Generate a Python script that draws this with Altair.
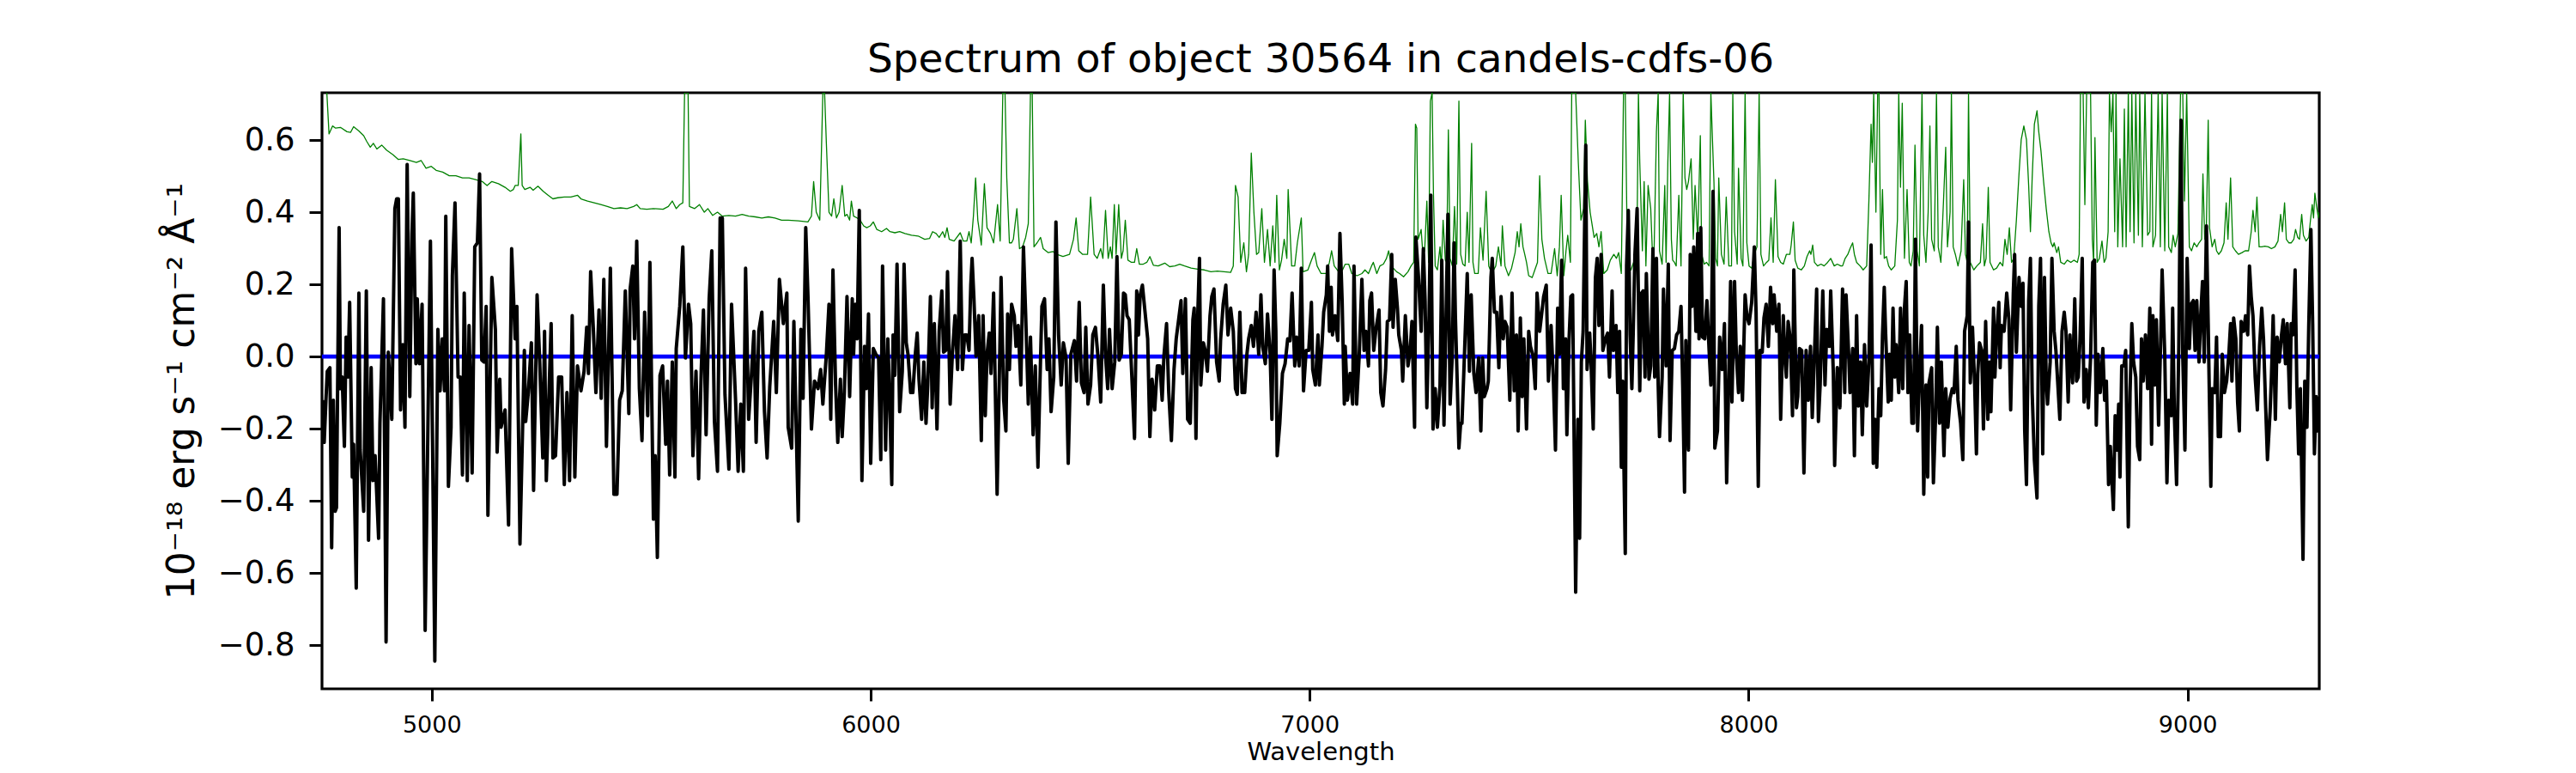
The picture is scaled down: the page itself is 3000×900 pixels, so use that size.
import altair as alt
import pandas as pd

# ---- data: (wavelength [Angstrom], flux [1e-18 erg/s/cm2/A]) ----
flux_4750_5900 = [
    (4751,-0.121),(4755,-0.238),(4759,-0.121),(4762,-0.041),(4768,-0.031),(4772,-0.530),(4776,-0.121),(4780,-0.429),
    (4783,-0.419),(4789,0.357),(4792,-0.089),(4796,-0.057),(4801,-0.249),(4805,0.054),(4809,-0.057),(4813,0.150),
    (4819,-0.334),(4822,-0.243),(4828,-0.642),(4834,0.176),(4837,-0.259),(4845,-0.429),(4851,0.182),(4856,-0.509),
    (4862,-0.031),(4866,-0.344),(4871,-0.275),(4879,-0.504),(4882,-0.185),(4890,0.160),(4896,-0.791),(4901,0.012),
    (4909,-0.174),(4916,0.410),(4920,0.437),(4924,0.437),(4929,-0.148),(4934,0.033),(4939,-0.196),(4944,0.532),
    (4950,-0.111),(4955,0.341),(4958,0.453),(4964,-0.020),(4967,0.160),(4972,-0.020),(4978,0.145),(4985,-0.759),
    (4997,0.320),(5007,-0.844),(5014,0.075),(5019,-0.095),(5024,0.049),(5029,-0.095),(5032,0.389),(5038,-0.360),
    (5044,-0.196),(5047,0.224),(5053,0.426),(5060,-0.057),(5065,-0.057),(5070,-0.328),(5074,0.176),(5081,-0.344),
    (5085,0.086),(5092,-0.323),(5098,0.304),(5104,0.315),(5109,0.506),(5114,-0.010),(5119,-0.015),(5124,0.139),
    (5128,-0.440),(5137,0.219),(5145,0.075),(5149,-0.265),(5155,-0.063),(5158,-0.196),(5167,-0.148),(5175,-0.467),
    (5182,0.299),(5190,0.049),(5194,0.139),(5201,-0.520),(5211,0.017),(5214,-0.180),(5220,-0.100),(5227,0.038),
    (5232,-0.371),(5240,0.171),(5246,-0.015),(5253,-0.281),(5257,0.070),(5261,-0.344),(5272,0.091),(5276,-0.281),
    (5282,-0.275),(5289,-0.057),(5296,-0.057),(5302,-0.355),(5308,-0.100),(5314,-0.344),(5320,0.113),(5326,-0.334),
    (5332,-0.026),(5340,-0.095),(5347,-0.041),(5353,0.081),(5357,-0.047),(5362,0.235),(5368,0.081),(5374,-0.100),
    (5381,0.129),(5386,-0.116),(5392,0.214),(5398,-0.249),(5407,0.245),(5415,-0.382),(5422,-0.382),(5428,-0.121),
    (5434,-0.095),(5441,0.182),(5449,-0.158),(5452,0.187),(5458,0.251),(5462,0.049),(5467,0.320),(5473,-0.089),
    (5479,-0.233),(5485,0.123),(5492,-0.164),(5497,0.261),(5505,-0.451),(5509,-0.275),(5514,-0.557),(5520,-0.052),
    (5526,-0.026),(5533,-0.243),(5537,-0.068),(5542,-0.328),(5548,-0.015),(5554,-0.334),(5557,0.022),(5565,0.139),
    (5572,0.304),(5578,-0.004),(5585,0.145),(5590,0.091),(5595,-0.275),(5602,-0.041),(5608,-0.339),(5614,-0.036),
    (5619,0.129),(5625,-0.217),(5632,0.160),(5638,0.293),(5644,-0.180),(5651,-0.318),(5657,0.384),(5662,0.384),
    (5668,-0.105),(5677,-0.312),(5683,0.145),(5692,-0.116),(5698,-0.318),(5704,-0.132),(5710,-0.318),(5715,0.245),
    (5722,-0.174),(5728,-0.057),(5734,0.070),(5739,-0.238),(5745,0.070),(5752,0.123),(5758,-0.153),(5764,-0.281),
    (5770,-0.084),(5779,0.097),(5785,-0.100),(5792,0.214),(5801,0.091),(5809,0.176),(5812,-0.196),(5820,-0.254),
    (5825,0.097),(5835,-0.456),(5841,0.075),(5846,-0.116),(5852,0.357),(5857,0.171),(5865,-0.201),(5872,-0.068),
    (5880,-0.089),(5886,-0.036),(5891,-0.132),(5899,0.006),
]
flux_5900_7080 = [
    (5905,0.145),(5909,-0.174),(5914,0.240),(5920,-0.079),(5925,-0.238),(5931,-0.063),(5935,-0.222),(5940,-0.100),
    (5946,0.166),(5952,-0.111),(5958,0.160),(5961,0.006),(5965,0.145),(5969,0.049),(5974,0.405),(5980,-0.344),
    (5986,0.028),(5990,-0.089),(5995,0.118),(6000,-0.296),(6006,0.022),(6012,0.006),(6018,-0.004),(6023,-0.286),
    (6027,0.251),(6034,-0.259),(6039,0.049),(6042,-0.068),(6048,-0.355),(6051,0.060),(6055,-0.052),(6060,0.256),
    (6066,-0.153),(6072,-0.041),(6076,0.256),(6081,0.038),(6085,0.006),(6091,-0.100),(6096,-0.100),(6102,0.012),
    (6106,0.065),(6110,-0.063),(6116,-0.174),(6121,-0.015),(6126,-0.185),(6130,-0.079),(6136,0.166),(6140,-0.142),
    (6145,0.091),(6151,-0.201),(6156,0.070),(6162,0.182),(6166,0.012),(6171,0.017),(6175,0.235),(6181,-0.132),
    (6186,0.006),(6192,0.113),(6198,-0.036),(6204,0.320),(6209,-0.036),(6214,0.060),(6219,0.060),(6224,0.017),
    (6228,0.198),(6231,0.272),(6235,0.166),(6240,0.001),(6246,0.113),(6252,-0.233),(6256,0.113),(6261,-0.164),
    (6265,0.006),(6270,0.065),(6274,-0.047),(6280,0.176),(6288,-0.382),(6294,0.006),(6297,0.219),(6303,-0.121),
    (6308,-0.206),(6312,0.118),(6316,-0.036),(6321,0.145),(6327,0.113),(6331,0.028),(6336,0.086),(6342,-0.079),
    (6348,0.304),(6353,0.118),(6359,-0.132),(6364,0.054),(6370,-0.217),(6375,-0.026),(6381,-0.307),(6385,-0.100),
    (6390,0.139),(6396,0.160),(6402,-0.036),(6406,0.049),(6411,-0.153),(6417,-0.057),(6422,0.373),(6428,0.060),
    (6434,-0.079),(6439,0.038),(6445,-0.004),(6450,-0.296),(6456,0.006),(6464,0.044),(6469,-0.068),(6475,0.150),
    (6480,-0.073),(6486,-0.100),(6490,0.081),(6495,-0.132),(6501,-0.079),(6506,0.060),(6512,0.081),(6518,-0.004),
    (6524,-0.126),(6530,0.198),(6535,0.001),(6540,-0.089),(6544,0.075),(6550,-0.089),(6556,-0.015),(6561,0.277),
    (6566,-0.010),(6571,0.006),(6576,0.176),(6580,0.171),(6584,0.113),(6589,0.102),(6595,-0.057),(6601,-0.227),
    (6606,0.182),(6610,0.060),(6614,0.171),(6619,0.198),(6625,0.123),(6631,0.049),(6636,-0.222),(6641,-0.063),
    (6647,-0.148),(6653,-0.026),(6659,-0.026),(6664,-0.121),(6668,0.001),(6674,0.091),(6679,-0.100),(6685,-0.233),
    (6691,-0.036),(6696,0.049),(6702,0.107),(6707,0.155),(6711,-0.047),(6717,0.160),(6722,-0.174),(6728,-0.185),
    (6734,0.102),(6737,0.134),(6741,-0.227),(6745,0.113),(6749,0.272),(6752,-0.079),(6758,0.038),(6762,0.017),
    (6767,-0.041),(6773,0.113),(6777,0.166),(6782,0.187),(6788,-0.015),(6794,-0.068),(6797,0.044),(6803,0.145),
    (6809,0.198),(6814,0.060),(6820,0.134),(6826,0.070),(6831,-0.089),(6835,-0.105),(6841,0.123),(6846,-0.100),
    (6852,-0.100),(6857,0.006),(6861,0.049),(6867,0.086),(6872,0.028),(6878,0.123),(6884,0.006),(6889,0.171),
    (6893,0.028),(6899,-0.020),(6904,0.118),(6910,0.006),(6914,-0.174),(6919,0.240),(6923,0.070),(6926,-0.275),
    (6932,-0.185),(6938,-0.047),(6944,-0.020),(6950,0.049),(6955,0.044),(6960,0.176),(6966,-0.026),(6970,0.054),
    (6976,-0.026),(6981,0.245),(6986,-0.095),(6992,0.017),(6998,0.017),(7004,0.150),(7007,-0.036),(7013,-0.079),
    (7019,0.060),(7022,-0.079),(7028,0.028),(7032,0.123),(7038,0.171),(7041,0.251),(7045,0.070),(7049,0.192),
    (7052,0.060),(7058,0.113),(7064,0.044),(7069,0.341),(7074,0.155),(7079,-0.132),
]
flux_7080_8210 = [
    (7081,0.028),(7086,-0.121),(7092,-0.047),(7098,-0.132),(7101,0.251),(7107,-0.132),(7113,0.006),(7119,0.214),
    (7124,0.017),(7128,0.070),(7134,-0.026),(7137,0.155),(7141,0.176),(7146,0.017),(7151,0.075),(7158,0.129),
    (7162,-0.100),(7167,-0.137),(7173,-0.036),(7177,0.097),(7182,0.102),(7187,0.283),(7190,0.081),(7195,0.214),
    (7200,0.134),(7203,0.060),(7209,0.017),(7212,-0.068),(7218,0.113),(7224,-0.026),(7229,0.017),(7233,0.097),
    (7239,-0.196),(7242,0.331),(7248,0.219),(7254,0.070),(7259,0.299),(7263,0.155),(7267,-0.142),(7272,0.113),
    (7276,0.447),(7281,-0.201),(7286,-0.089),(7291,-0.196),(7297,-0.079),(7301,0.267),(7306,-0.190),(7310,0.060),
    (7315,0.394),(7320,-0.132),(7325,0.006),(7329,0.315),(7332,0.113),(7336,-0.063),(7340,-0.254),(7344,-0.185),
    (7347,-0.185),(7353,0.017),(7359,0.230),(7364,-0.041),(7368,0.171),(7374,-0.047),(7379,-0.100),(7385,-0.004),
    (7390,-0.206),(7394,-0.004),(7398,-0.111),(7404,-0.089),(7407,-0.068),(7413,0.219),(7416,0.272),(7421,0.123),
    (7426,0.123),(7431,-0.031),(7436,0.166),(7441,0.049),(7445,0.097),(7450,0.081),(7456,-0.121),(7461,0.176),
    (7466,-0.095),(7471,0.060),(7475,-0.206),(7480,0.107),(7484,-0.111),(7488,0.049),(7494,-0.201),(7499,0.070),
    (7503,0.028),(7509,0.001),(7514,-0.089),(7518,0.176),(7524,0.070),(7529,0.123),(7533,0.166),(7539,0.198),
    (7544,-0.068),(7550,0.086),(7555,-0.057),(7560,-0.259),(7565,0.134),(7569,0.006),(7574,0.267),(7578,-0.089),
    (7583,0.049),(7586,-0.217),(7591,0.049),(7595,0.166),(7599,0.171),(7602,-0.174),(7606,-0.653),(7611,-0.174),
    (7615,-0.504),(7619,-0.015),(7623,0.070),(7629,0.586),(7632,-0.036),(7638,0.065),(7641,-0.015),(7646,-0.201),
    (7651,0.219),(7655,0.272),(7659,0.086),(7664,0.283),(7668,0.017),(7674,0.049),(7679,0.065),(7683,-0.057),
    (7689,0.182),(7692,0.017),(7698,0.086),(7702,-0.100),(7706,0.070),(7710,-0.307),(7713,-0.068),(7719,-0.546),
    (7722,0.251),(7726,0.405),(7730,0.060),(7734,-0.089),(7737,0.060),(7741,0.283),(7746,0.410),(7752,-0.095),
    (7756,0.176),(7760,0.182),(7764,-0.057),(7767,0.230),(7773,-0.063),(7777,-0.026),(7782,0.299),(7786,-0.057),
    (7790,0.272),(7794,-0.079),(7797,-0.222),(7803,-0.057),(7806,0.187),(7812,-0.026),(7817,0.256),(7821,-0.233),
    (7826,0.017),(7831,0.022),(7836,0.060),(7841,0.070),(7846,0.139),(7850,-0.089),(7854,-0.376),(7857,0.044),
    (7863,-0.259),(7867,0.283),(7871,0.139),(7875,0.304),(7880,0.070),(7884,0.341),(7887,0.049),(7891,0.357),
    (7895,0.054),(7900,0.049),(7905,0.155),(7910,0.017),(7914,-0.079),(7919,0.458),(7923,-0.254),(7929,-0.206),
    (7934,0.054),(7940,-0.036),(7945,0.091),(7950,-0.350),(7955,-0.041),(7959,0.208),(7962,-0.126),(7968,0.208),
    (7972,0.006),(7977,-0.100),(7981,0.028),(7986,-0.121),(7992,0.171),(7996,0.113),(8001,0.091),(8007,0.150),
    (8013,0.304),(8017,0.123),(8022,-0.360),(8026,0.017),(8031,0.012),(8035,0.107),(8040,0.145),(8045,0.028),
    (8050,0.192),(8055,0.091),(8058,0.171),(8064,0.070),(8069,0.145),(8073,-0.174),(8079,0.113),(8082,0.017),
    (8086,-0.057),(8090,0.097),(8095,0.049),(8100,-0.164),(8103,0.240),(8109,-0.142),(8112,-0.111),(8116,0.022),
    (8121,0.017),(8126,-0.323),(8131,0.017),(8136,-0.121),(8141,0.028),(8145,-0.169),(8150,0.006),(8155,0.187),
    (8159,-0.180),(8163,-0.079),(8169,0.182),(8174,-0.079),(8178,0.075),(8184,0.028),(8187,0.182),(8193,-0.047),
    (8196,-0.302),(8202,-0.031),(8208,-0.142),
]
flux_8210_9300 = [
    (8214,0.187),(8219,-0.100),(8222,0.171),(8228,0.006),(8231,-0.100),(8237,0.022),(8241,-0.275),(8246,0.113),
    (8250,-0.137),(8255,-0.015),(8259,-0.217),(8264,0.033),(8269,-0.137),(8274,-0.015),(8279,0.309),(8284,-0.296),
    (8288,-0.174),(8292,-0.307),(8297,-0.089),(8301,-0.164),(8305,0.060),(8309,0.192),(8312,0.070),(8318,-0.126),
    (8321,0.006),(8325,-0.121),(8329,0.134),(8333,-0.057),(8336,0.033),(8342,-0.100),(8346,0.134),(8351,-0.089),
    (8355,0.134),(8359,0.208),(8363,-0.100),(8367,0.060),(8372,-0.185),(8376,-0.185),(8380,0.325),(8385,-0.206),
    (8389,-0.068),(8394,0.086),(8399,-0.382),(8404,-0.079),(8408,-0.334),(8411,-0.073),(8417,-0.031),(8421,-0.350),
    (8426,-0.164),(8430,0.081),(8435,-0.185),(8439,-0.015),(8445,-0.275),(8449,-0.089),(8454,-0.196),(8459,-0.116),
    (8464,-0.089),(8468,-0.100),(8473,0.028),(8477,-0.121),(8483,-0.185),(8488,-0.286),(8492,0.070),(8498,0.113),
    (8501,0.373),(8505,-0.073),(8510,0.081),(8515,-0.079),(8519,-0.270),(8522,-0.047),(8526,0.038),(8531,0.017),
    (8535,-0.201),(8540,0.097),(8545,-0.174),(8549,-0.015),(8552,-0.153),(8558,0.134),(8561,-0.057),(8565,0.060),
    (8570,0.150),(8573,-0.031),(8576,0.086),(8582,0.070),(8588,0.176),(8593,0.102),(8597,-0.148),(8603,0.176),
    (8606,0.283),(8610,0.012),(8616,0.219),(8621,0.139),(8625,0.203),(8629,-0.206),(8633,-0.355),(8638,0.155),
    (8642,0.272),(8646,-0.100),(8651,-0.286),(8657,-0.392),(8661,0.139),(8665,0.272),(8670,-0.270),(8674,0.219),
    (8678,-0.068),(8681,-0.132),(8687,-0.015),(8691,0.272),(8696,0.070),(8700,0.017),(8704,-0.068),(8709,-0.174),
    (8714,0.070),(8719,0.123),(8723,0.070),(8728,-0.126),(8732,0.060),(8738,-0.073),(8743,0.160),(8747,-0.068),
    (8751,-0.057),(8755,0.049),(8760,0.272),(8764,-0.126),(8769,-0.036),(8774,-0.142),(8779,-0.004),(8784,0.261),
    (8788,0.267),(8792,-0.190),(8796,0.006),(8801,-0.100),(8807,0.022),(8811,-0.121),(8815,-0.068),(8820,-0.355),
    (8824,-0.249),(8828,-0.350),(8831,-0.424),(8835,-0.164),(8839,-0.259),(8843,-0.132),(8846,-0.334),(8850,-0.026),
    (8855,-0.026),(8859,0.017),(8865,-0.472),(8869,-0.100),(8873,0.091),(8877,-0.015),(8882,-0.057),(8886,-0.249),
    (8891,-0.286),(8895,0.049),(8899,-0.068),(8904,0.060),(8909,-0.089),(8914,0.134),(8918,-0.243),(8921,0.113),
    (8925,-0.079),(8929,0.102),(8934,-0.190),(8939,0.060),(8942,0.240),(8948,0.006),(8953,-0.350),(8957,-0.121),
    (8963,-0.164),(8966,0.134),(8970,-0.164),(8975,-0.355),(8980,0.028),(8985,0.655),(8989,0.006),(8994,-0.259),
    (8999,0.272),(9004,0.022),(9008,0.145),(9013,0.155),(9017,0.017),(9021,0.155),(9026,-0.015),(9030,0.113),
    (9034,0.208),(9038,-0.015),(9043,0.362),(9047,0.091),(9053,-0.360),(9056,-0.089),(9062,-0.100),(9066,0.054),
    (9070,-0.222),(9075,-0.222),(9079,0.006),(9084,-0.100),(9089,-0.068),(9094,0.006),(9098,0.091),(9101,-0.068),
    (9105,0.107),(9110,0.049),(9114,-0.126),(9118,-0.206),(9122,0.097),(9128,0.070),(9132,0.113),(9137,0.060),
    (9141,0.251),(9145,0.166),(9149,0.113),(9154,-0.057),(9159,-0.148),(9164,0.028),(9169,0.134),(9173,0.049),
    (9178,-0.142),(9182,-0.286),(9188,-0.153),(9191,-0.057),(9195,0.113),(9200,-0.174),(9204,0.054),(9209,-0.015),
    (9214,0.060),(9218,0.102),(9223,-0.020),(9227,0.091),(9233,-0.142),(9236,0.091),(9240,0.060),(9245,0.240),
    (9249,-0.089),(9253,-0.270),(9257,-0.089),(9263,-0.562),(9267,-0.068),(9272,-0.196),(9276,0.081),(9281,0.352),
    (9285,0.091),(9289,-0.270),(9293,-0.111),(9296,-0.206),(9300,-0.111),
]

# green (sky / error) spectrum; spikes that leave the top of the frame are given 0.9
sky_4750_5900 = [
    (4761,0.9),(4766,0.617),(4774,0.639),(4781,0.633),(4792,0.635),(4807,0.623),(4815,0.621),(4822,0.637),
    (4834,0.625),(4845,0.612),(4852,0.596),(4860,0.580),(4867,0.591),(4875,0.575),(4886,0.586),(4897,0.572),
    (4912,0.559),(4924,0.546),(4935,0.548),(4950,0.543),(4965,0.538),(4976,0.543),(4987,0.522),(4999,0.527),
    (5010,0.516),(5025,0.511),(5040,0.501),(5055,0.501),(5070,0.495),(5085,0.495),(5100,0.490),(5115,0.485),
    (5126,0.474),(5137,0.485),(5152,0.479),(5167,0.469),(5179,0.458),(5186,0.463),(5190,0.474),(5197,0.474),
    (5203,0.617),(5206,0.474),(5212,0.463),(5224,0.469),(5231,0.461),(5242,0.472),(5254,0.458),(5265,0.447),
    (5276,0.437),(5287,0.440),(5302,0.442),(5317,0.442),(5332,0.447),(5340,0.437),(5355,0.431),(5370,0.426),
    (5385,0.421),(5400,0.416),(5415,0.410),(5430,0.412),(5445,0.410),(5460,0.416),(5467,0.421),(5475,0.410),
    (5490,0.408),(5505,0.410),(5527,0.408),(5539,0.416),(5548,0.431),(5557,0.410),(5565,0.421),(5572,0.426),
    (5576,0.9),(5584,0.9),(5587,0.416),(5599,0.410),(5610,0.421),(5621,0.400),(5629,0.410),(5640,0.391),
    (5651,0.400),(5662,0.389),(5677,0.391),(5692,0.389),(5707,0.394),(5722,0.389),(5737,0.387),(5752,0.384),
    (5767,0.387),(5782,0.384),(5797,0.378),(5812,0.378),(5835,0.376),(5857,0.373),(5865,0.389),(5870,0.485),
    (5876,0.400),(5884,0.378),(5891,0.9),(5895,0.9),(5899,0.591),
]
sky_5900_7080 = [
    (5905,0.400),(5911,0.389),(5916,0.437),(5922,0.384),(5928,0.400),(5935,0.474),(5941,0.389),(5946,0.394),
    (5952,0.378),(5956,0.431),(5961,0.389),(5969,0.384),(5976,0.378),(5984,0.362),(5991,0.357),(5999,0.362),
    (6006,0.373),(6014,0.352),(6025,0.346),(6036,0.355),(6044,0.346),(6055,0.343),(6066,0.346),(6078,0.341),
    (6093,0.336),(6108,0.334),(6123,0.325),(6134,0.327),(6141,0.346),(6149,0.341),(6156,0.330),(6164,0.346),
    (6169,0.330),(6174,0.357),(6179,0.325),(6190,0.320),(6204,0.343),(6211,0.320),(6219,0.320),(6224,0.346),
    (6229,0.315),(6234,0.389),(6239,0.495),(6244,0.378),(6252,0.309),(6259,0.479),(6265,0.357),(6273,0.341),
    (6280,0.315),(6289,0.421),(6295,0.320),(6301,0.9),(6306,0.9),(6310,0.495),(6316,0.315),(6321,0.315),
    (6325,0.325),(6333,0.410),(6339,0.299),(6346,0.304),(6353,0.330),(6359,0.368),(6364,0.9),(6368,0.9),
    (6372,0.304),(6379,0.315),(6387,0.330),(6393,0.299),(6404,0.288),(6415,0.291),(6424,0.283),(6438,0.277),
    (6453,0.283),(6462,0.325),(6468,0.384),(6474,0.293),(6483,0.283),(6494,0.283),(6501,0.442),(6509,0.283),
    (6516,0.272),(6524,0.299),(6529,0.272),(6535,0.405),(6541,0.272),(6546,0.304),(6550,0.272),(6555,0.421),
    (6559,0.283),(6565,0.421),(6571,0.272),(6575,0.293),(6580,0.378),(6586,0.267),(6594,0.261),(6601,0.261),
    (6606,0.299),(6612,0.256),(6621,0.256),(6629,0.261),(6636,0.277),(6644,0.253),(6655,0.251),(6670,0.259),
    (6681,0.249),(6693,0.251),(6704,0.256),(6715,0.251),(6730,0.245),(6745,0.242),(6760,0.240),(6775,0.235),
    (6790,0.237),(6805,0.235),(6820,0.233),(6826,0.251),(6831,0.474),(6837,0.442),(6843,0.261),(6850,0.315),
    (6856,0.235),(6861,0.283),(6867,0.564),(6873,0.400),(6879,0.283),(6884,0.288),(6891,0.410),(6897,0.261),
    (6904,0.352),(6910,0.251),(6916,0.362),(6921,0.261),(6925,0.447),(6931,0.240),(6936,0.267),(6942,0.325),
    (6948,0.272),(6951,0.463),(6959,0.251),(6966,0.251),(6972,0.315),(6981,0.384),(6985,0.235),(6996,0.240),
    (7004,0.267),(7011,0.288),(7017,0.251),(7026,0.230),(7038,0.230),(7045,0.261),(7050,0.293),(7056,0.251),
    (7066,0.235),(7075,0.240),
]
sky_7080_8210 = [
    (7081,0.256),(7089,0.256),(7096,0.230),(7108,0.224),(7119,0.230),(7126,0.240),(7134,0.230),(7141,0.251),
    (7145,0.261),(7153,0.230),(7160,0.251),(7168,0.256),(7175,0.272),(7180,0.293),(7186,0.251),(7198,0.235),
    (7205,0.230),(7214,0.221),(7224,0.235),(7231,0.251),(7237,0.261),(7241,0.644),(7244,0.633),(7247,0.325),
    (7250,0.336),(7254,0.352),(7258,0.283),(7262,0.293),(7267,0.431),(7271,0.261),(7275,0.708),(7279,0.9),
    (7282,0.453),(7286,0.251),(7291,0.240),(7297,0.304),(7300,0.245),(7304,0.378),(7309,0.267),(7312,0.261),
    (7316,0.628),(7320,0.272),(7325,0.251),(7330,0.416),(7335,0.256),(7340,0.708),(7344,0.283),(7349,0.256),
    (7354,0.251),(7359,0.400),(7363,0.261),(7369,0.591),(7372,0.261),(7376,0.230),(7384,0.230),(7389,0.357),
    (7395,0.267),(7402,0.458),(7408,0.251),(7415,0.230),(7424,0.251),(7430,0.304),(7436,0.251),(7439,0.362),
    (7445,0.251),(7453,0.224),(7460,0.245),(7468,0.288),(7473,0.346),(7477,0.304),(7481,0.368),(7486,0.304),
    (7490,0.283),(7494,0.261),(7499,0.224),(7507,0.219),(7513,0.240),(7519,0.261),(7524,0.501),(7529,0.325),
    (7535,0.272),(7543,0.230),(7550,0.230),(7558,0.299),(7564,0.224),(7569,0.304),(7573,0.447),(7579,0.224),
    (7584,0.293),(7588,0.336),(7594,0.261),(7597,0.9),(7603,0.9),(7606,0.9),(7612,0.538),(7618,0.378),
    (7624,0.410),(7628,0.655),(7633,0.485),(7639,0.400),(7648,0.330),(7654,0.341),(7659,0.304),(7664,0.346),
    (7670,0.230),(7678,0.240),(7685,0.267),(7693,0.283),(7699,0.272),(7704,0.288),(7710,0.230),(7715,0.9),
    (7719,0.9),(7724,0.256),(7732,0.240),(7738,0.261),(7745,0.245),(7749,0.9),(7752,0.538),(7758,0.293),
    (7762,0.485),(7766,0.251),(7771,0.474),(7777,0.410),(7781,0.283),(7784,0.251),(7790,0.623),(7794,0.9),
    (7797,0.293),(7803,0.256),(7809,0.474),(7812,0.261),(7816,0.538),(7820,0.9),(7824,0.325),(7827,0.267),
    (7831,0.261),(7835,0.251),(7841,0.447),(7846,0.251),(7851,0.9),(7855,0.495),(7859,0.463),(7863,0.485),
    (7869,0.548),(7874,0.325),(7878,0.474),(7884,0.325),(7890,0.612),(7893,0.283),(7899,0.256),(7904,0.261),
    (7910,0.251),(7914,0.9),(7917,0.623),(7921,0.485),(7925,0.272),(7929,0.251),(7932,0.495),(7938,0.283),
    (7944,0.256),(7949,0.442),(7955,0.251),(7961,0.251),(7964,0.9),(7968,0.346),(7974,0.256),(7977,0.522),
    (7983,0.272),(7987,0.251),(7992,0.9),(7996,0.315),(8001,0.251),(8007,0.245),(8013,0.283),(8019,0.304),
    (8024,0.9),(8028,0.283),(8034,0.251),(8041,0.261),(8046,0.267),(8051,0.384),(8056,0.261),(8061,0.490),
    (8067,0.277),(8073,0.261),(8079,0.256),(8086,0.283),(8094,0.283),(8097,0.309),(8102,0.373),(8106,0.267),
    (8112,0.245),(8120,0.240),(8127,0.251),(8133,0.277),(8139,0.293),(8142,0.283),(8146,0.309),(8150,0.261),
    (8157,0.251),(8165,0.256),(8172,0.251),(8180,0.261),(8187,0.272),(8195,0.251),(8202,0.256),(8210,0.251),
]
sky_8210_9300 = [
    (8214,0.251),(8220,0.272),(8226,0.283),(8231,0.299),(8237,0.315),(8241,0.283),(8246,0.261),(8254,0.251),
    (8261,0.240),(8269,0.251),(8274,0.431),(8279,0.644),(8282,0.538),(8285,0.9),(8290,0.400),(8294,0.9),
    (8297,0.9),(8301,0.283),(8305,0.463),(8309,0.272),(8314,0.277),(8319,0.251),(8325,0.240),(8333,0.251),
    (8339,0.378),(8342,0.9),(8346,0.469),(8350,0.702),(8355,0.272),(8361,0.463),(8366,0.261),(8370,0.251),
    (8375,0.293),(8379,0.586),(8384,0.293),(8389,0.251),(8395,0.9),(8399,0.336),(8404,0.261),(8409,0.400),
    (8413,0.639),(8417,0.325),(8423,0.293),(8428,0.9),(8432,0.304),(8438,0.261),(8444,0.431),(8449,0.580),
    (8453,0.304),(8459,0.400),(8462,0.9),(8466,0.304),(8471,0.283),(8477,0.251),(8484,0.293),(8490,0.490),
    (8494,0.283),(8498,0.261),(8501,0.9),(8505,0.261),(8513,0.240),(8520,0.251),(8528,0.261),(8533,0.368),
    (8537,0.251),(8541,0.272),(8546,0.469),(8550,0.261),(8558,0.240),(8565,0.245),(8573,0.261),(8579,0.251),
    (8584,0.325),(8589,0.283),(8594,0.357),(8599,0.261),(8604,0.272),(8610,0.378),(8616,0.506),(8621,0.601),
    (8627,0.639),(8633,0.601),(8638,0.474),(8642,0.346),(8646,0.495),(8651,0.644),(8657,0.681),(8661,0.623),
    (8666,0.570),(8672,0.485),(8678,0.410),(8684,0.346),(8689,0.315),(8693,0.304),(8696,0.315),(8702,0.288),
    (8706,0.304),(8711,0.261),(8719,0.256),(8726,0.267),(8734,0.261),(8741,0.267),(8749,0.261),(8753,0.283),
    (8756,0.9),(8762,0.9),(8766,0.421),(8770,0.9),(8775,0.9),(8779,0.9),(8783,0.325),(8786,0.261),
    (8789,0.607),(8794,0.261),(8799,0.272),(8805,0.320),(8810,0.261),(8814,0.272),(8819,0.346),(8822,0.9),
    (8826,0.623),(8830,0.9),(8834,0.346),(8837,0.9),(8841,0.304),(8846,0.548),(8852,0.304),(8856,0.686),
    (8860,0.304),(8865,0.9),(8869,0.346),(8873,0.9),(8878,0.315),(8882,0.9),(8888,0.336),(8891,0.9),
    (8897,0.304),(8903,0.9),(8909,0.336),(8914,0.346),(8918,0.9),(8921,0.304),(8927,0.336),(8933,0.9),
    (8938,0.304),(8942,0.9),(8948,0.293),(8954,0.9),(8957,0.304),(8963,0.288),(8967,0.336),(8972,0.304),
    (8978,0.341),(8984,0.9),(8989,0.9),(8993,0.431),(8998,0.9),(9004,0.304),(9009,0.293),(9015,0.315),
    (9021,0.304),(9026,0.315),(9032,0.325),(9035,0.506),(9039,0.325),(9043,0.368),(9047,0.655),(9050,0.357),
    (9056,0.304),(9062,0.325),(9066,0.293),(9071,0.283),(9077,0.293),(9083,0.315),(9088,0.426),(9092,0.325),
    (9098,0.495),(9103,0.304),(9109,0.293),(9116,0.283),(9124,0.288),(9131,0.293),(9139,0.293),(9145,0.346),
    (9149,0.405),(9154,0.346),(9158,0.442),(9163,0.304),(9169,0.304),(9176,0.306),(9184,0.304),(9191,0.299),
    (9199,0.304),(9206,0.320),(9212,0.394),(9216,0.346),(9221,0.426),(9225,0.325),(9231,0.315),(9236,0.315),
    (9242,0.325),(9246,0.352),(9251,0.330),(9255,0.325),(9260,0.394),(9264,0.336),(9270,0.320),(9276,0.330),
    (9280,0.378),(9284,0.421),(9287,0.384),(9290,0.453),(9294,0.416),(9298,0.384),(9302,0.400),
]
zero_level = 0.0

x_ticks = [5000, 6000, 7000, 8000, 9000]
y_ticks = [-0.8, -0.6, -0.4, -0.2, 0.0, 0.2, 0.4, 0.6]
x_domain = [4750, 9300]
y_domain = [-0.921, 0.731]
title_text = "Spectrum of object 30564 in candels-cdfs-06"
x_title = "Wavelength"
y_title = "10⁻¹⁸ erg s⁻¹ cm⁻² Å⁻¹"

flux_df = pd.DataFrame(flux_4750_5900 + flux_5900_7080 + flux_7080_8210 + flux_8210_9300,
                       columns=["wave", "flux"])
sky_df = pd.DataFrame(sky_4750_5900 + sky_5900_7080 + sky_7080_8210 + sky_8210_9300,
                      columns=["wave", "flux"])

FONT = "DejaVu Sans"

x_enc = alt.X("wave:Q",
              scale=alt.Scale(domain=x_domain, nice=False, zero=False, clamp=True),
              axis=alt.Axis(values=x_ticks, format="d", title=x_title,
                            titleFontSize=29, titleFont=FONT, titleFontWeight="normal",
                            titleColor="black", titleX=1163, titleY=82,
                            titleBaseline="alphabetic", titleAlign="center",
                            labelFontSize=27, labelFont=FONT, labelColor="black",
                            labelPadding=15, labelFlush=False, labelOverlap=False,
                            tickSize=14, tickWidth=3, tickColor="black",
                            domain=False, grid=False))
y_enc = alt.Y("flux:Q",
              scale=alt.Scale(domain=y_domain, nice=False, zero=False, clamp=True),
              axis=alt.Axis(values=y_ticks, format=".1f", title=y_title,
                            titleFontSize=44, titleFont=FONT, titleFontWeight="normal",
                            titleColor="black", titleX=-150, titleY=347, titleAngle=270,
                            titleBaseline="alphabetic", titleAlign="center",
                            labelFontSize=37, labelFont=FONT, labelColor="black",
                            labelPadding=17, labelFlush=False, labelOverlap=False,
                            tickSize=15, tickWidth=3, tickColor="black",
                            domain=False, grid=False))

sky_line = alt.Chart(sky_df).mark_line(color="#008000", strokeWidth=1.3, clip=True,
                                       strokeJoin="round").encode(x=x_enc, y=y_enc)
zero_rule = alt.Chart(pd.DataFrame({"flux": [zero_level]})).mark_rule(
    color="#0000ff", strokeWidth=4.8, clip=True).encode(y=alt.Y("flux:Q"))
flux_line = alt.Chart(flux_df).mark_line(color="black", strokeWidth=4, clip=True,
                                         strokeJoin="round").encode(x=x_enc, y=y_enc)

chart = alt.layer(sky_line, zero_rule, flux_line).properties(
    width=2326,
    height=694,
    title=alt.TitleParams(title_text, fontSize=47, font=FONT, fontWeight="normal",
                          color="black", anchor="middle", frame="group",
                          baseline="alphabetic", offset=23, dy=46),
    padding={"left": 367, "top": 100, "right": 30, "bottom": 90},
    autosize=alt.AutoSizeParams(type="none"),
).configure_view(stroke="black", strokeWidth=3.2)

chart.save("out.html", embed_options={"renderer": "svg", "actions": False})
